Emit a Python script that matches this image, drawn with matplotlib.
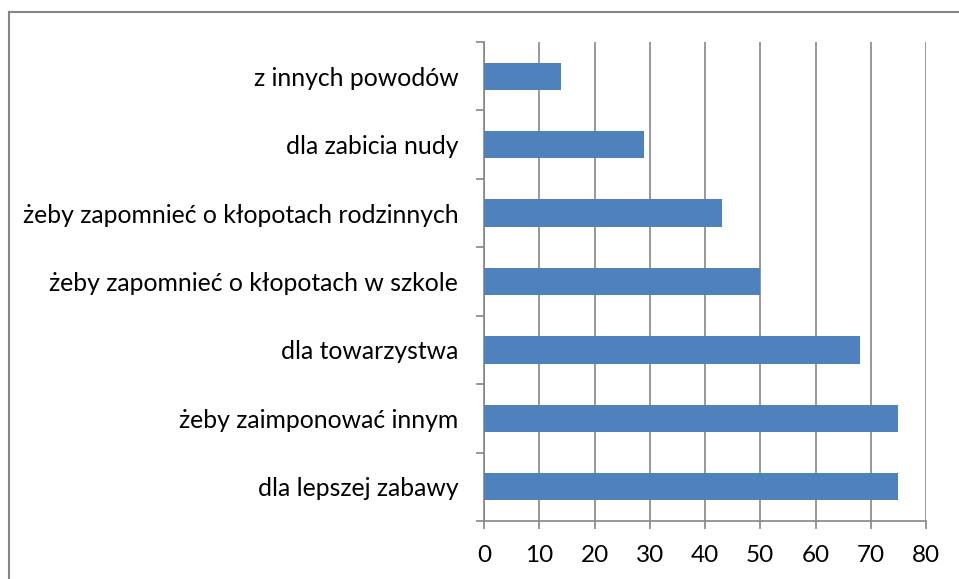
import matplotlib.pyplot as plt
from matplotlib.lines import Line2D

categories = [
    'dla lepszej zabawy',
    'żeby zaimponować innym',
    'dla towarzystwa',
    'żeby zapomnieć o kłopotach w szkole',
    'żeby zapomnieć o kłopotach rodzinnych',
    'dla zabicia nudy',
    'z innych powodów',
]
values = [75, 75, 68, 50, 43, 29, 14]
xticks = [0, 10, 20, 30, 40, 50, 60, 70, 80]

plt.rcParams['font.family'] = ['Lato', 'DejaVu Sans']
grey = '#868686'

fig = plt.figure(figsize=(9.59, 5.79), dpi=100)
ax = fig.add_axes([484 / 959, 1 - 521 / 579, (926 - 484) / 959, (521 - 42) / 579])

ax.barh(range(len(categories)), values, height=0.4, color='#4F81BD', zorder=3)
ax.set_xlim(0, 80)
ax.set_ylim(-0.5, len(categories) - 0.5)
ax.set_xticks(xticks)
ax.set_xticklabels([str(t) for t in xticks], fontsize=17.5)
ax.set_yticks(range(len(categories)))
ax.set_yticklabels(categories, fontsize=17.8)
ax.set_yticks([i - 0.5 for i in range(len(categories) + 1)], minor=True)

ax.tick_params(axis='y', which='major', length=0, pad=18.5)
ax.tick_params(axis='y', which='minor', length=6, color=grey, width=1.2)
ax.tick_params(axis='x', length=6, color=grey, width=1.2, pad=11)

ax.grid(axis='x', color=grey, linewidth=1.2, zorder=0)
for s in ['top', 'right']:
    ax.spines[s].set_visible(False)
for s in ['left', 'bottom']:
    ax.spines[s].set_color(grey)
    ax.spines[s].set_linewidth(1.2)

# chart area border (cut off at right and bottom)
fig.add_artist(Line2D([9 / 959, 9 / 959], [0, 1 - 12 / 579], color=grey, linewidth=1.5))
fig.add_artist(Line2D([9 / 959, 1], [1 - 12 / 579, 1 - 12 / 579], color=grey, linewidth=1.5))

fig.savefig('out.png', dpi=100)
